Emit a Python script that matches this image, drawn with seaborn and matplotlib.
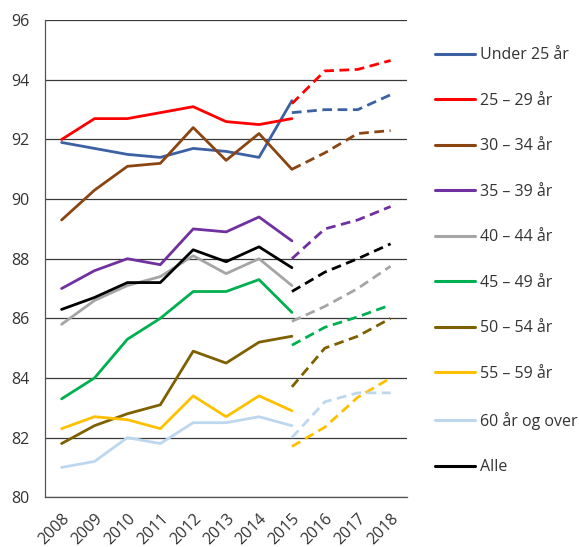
import matplotlib
matplotlib.use("Agg")
import matplotlib.pyplot as plt
from matplotlib.lines import Line2D
import pandas as pd
import seaborn as sns

years = ["2008", "2009", "2010", "2011", "2012", "2013", "2014", "2015", "2016", "2017", "2018"]
groups = ["Under 25 år", "25 – 29 år", "30 – 34 år", "35 – 39 år", "40 – 44 år",
          "45 – 49 år", "50 – 54 år", "55 – 59 år", "60 år og over", "Alle"]
colors = ["#3b61a3", "#ff0000", "#8b4513", "#7030a0", "#a5a5a5",
          "#00b050", "#7f6000", "#ffc000", "#bdd7ee", "#000000"]

# observed 2008-2015
historic = {
    "Under 25 år":   [91.9, 91.7, 91.5, 91.4, 91.7, 91.6, 91.4, 93.3],
    "25 – 29 år":    [92.0, 92.7, 92.7, 92.9, 93.1, 92.6, 92.5, 92.7],
    "30 – 34 år":    [89.3, 90.3, 91.1, 91.2, 92.4, 91.3, 92.2, 91.0],
    "35 – 39 år":    [87.0, 87.6, 88.0, 87.8, 89.0, 88.9, 89.4, 88.6],
    "40 – 44 år":    [85.8, 86.6, 87.1, 87.4, 88.1, 87.5, 88.0, 87.1],
    "45 – 49 år":    [83.3, 84.0, 85.3, 86.0, 86.9, 86.9, 87.3, 86.2],
    "50 – 54 år":    [81.8, 82.4, 82.8, 83.1, 84.9, 84.5, 85.2, 85.4],
    "55 – 59 år":    [82.3, 82.7, 82.6, 82.3, 83.4, 82.7, 83.4, 82.9],
    "60 år og over": [81.0, 81.2, 82.0, 81.8, 82.5, 82.5, 82.7, 82.4],
    "Alle":          [86.3, 86.7, 87.2, 87.2, 88.3, 87.9, 88.4, 87.7],
}
# projected 2015-2018
projected = {
    "Under 25 år":   [92.9, 93.0, 93.0, 93.5],
    "25 – 29 år":    [93.2, 94.3, 94.35, 94.65],
    "30 – 34 år":    [91.0, 91.55, 92.2, 92.3],
    "35 – 39 år":    [88.0, 89.0, 89.3, 89.75],
    "40 – 44 år":    [85.9, 86.4, 87.0, 87.75],
    "45 – 49 år":    [85.1, 85.7, 86.05, 86.45],
    "50 – 54 år":    [83.7, 85.0, 85.4, 86.0],
    "55 – 59 år":    [81.7, 82.35, 83.35, 84.0],
    "60 år og over": [82.0, 83.2, 83.5, 83.5],
    "Alle":          [86.9, 87.55, 88.0, 88.5],
}

rows = []
for g in groups:
    for i, v in enumerate(historic[g]):
        rows.append({"x": i, "value": v, "group": g, "phase": "hist"})
    for i, v in enumerate(projected[g]):
        rows.append({"x": 7 + i, "value": v, "group": g, "phase": "prog"})
df = pd.DataFrame(rows)

sns.set_style("white")
plt.rcParams["font.family"] = ["Open Sans", "DejaVu Sans"]

fig = plt.figure(figsize=(5.79, 5.47), dpi=100)
ax = fig.add_axes([0.078, 0.091, 0.625, 0.872])

palette = dict(zip(groups, colors))
sns.lineplot(data=df, x="x", y="value", hue="group", style="phase",
             palette=palette, hue_order=groups,
             dashes={"hist": "", "prog": (3.5, 2)},
             linewidth=2, legend=False, ax=ax, estimator=None, sort=False)

ax.set_xlim(-0.5, 10.5)
ax.set_ylim(80, 96)
ax.set_yticks(range(80, 97, 2))
ax.yaxis.grid(True, color="#3a3a3a", linewidth=0.9)
ax.set_axisbelow(True)
ax.set_xlabel("")
ax.set_ylabel("")

ax.set_xticks(range(len(years)))
ax.set_xticklabels(years, rotation=45, ha="right", rotation_mode="anchor", fontsize=11.5, color="#333333")
ax.tick_params(axis="x", which="major", length=0, pad=10)
ax.set_xticks([i - 0.5 for i in range(len(years) + 1)], minor=True)
ax.tick_params(axis="x", which="minor", length=5, width=0.9, color="#555555", direction="out")
ax.tick_params(axis="y", length=0, labelsize=11.5, labelcolor="#333333", pad=11)

for s in ["top", "right"]:
    ax.spines[s].set_visible(False)
for s in ["left", "bottom"]:
    ax.spines[s].set_color("#555555")
    ax.spines[s].set_linewidth(0.9)

handles = [Line2D([0], [0], color=c, linewidth=2.2) for c in colors]
fig.legend(handles, groups, loc="upper left", bbox_to_anchor=(0.726, 0.94),
           frameon=False, fontsize=11.5, handlelength=2.5, handletextpad=0.35,
           labelspacing=1.85, labelcolor="#333333")

fig.savefig("out.png", dpi=100)
